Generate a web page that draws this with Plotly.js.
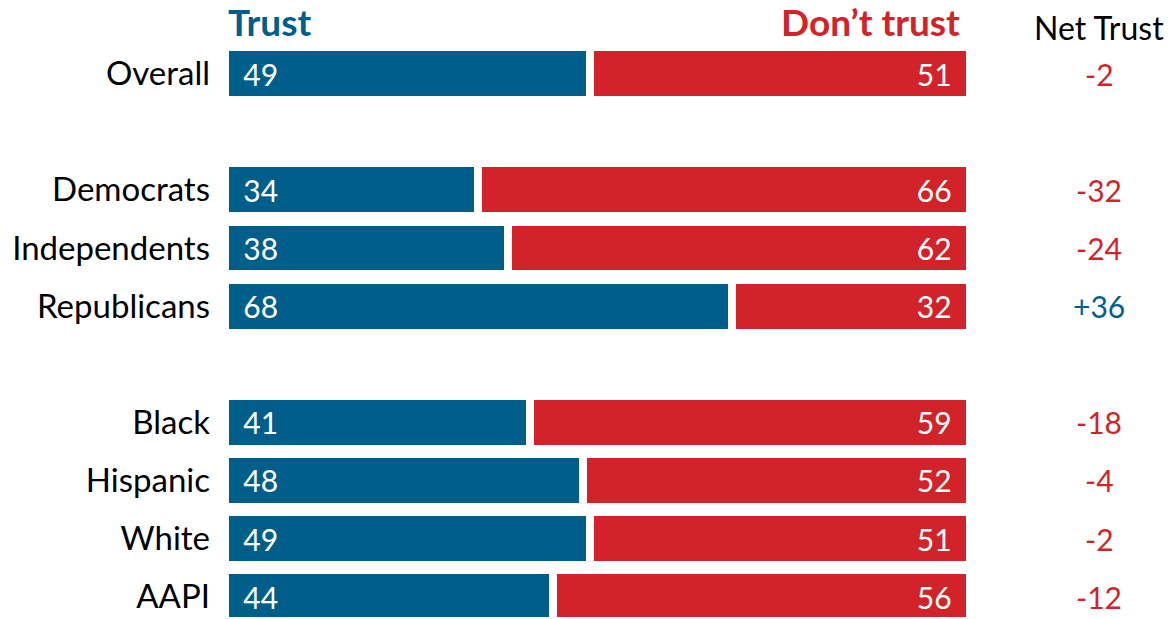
<!DOCTYPE html>
<html>
<head>
<meta charset="utf-8">
<script src="https://cdn.plot.ly/plotly-3.0.1.min.js"></script>
<style>html,body{margin:0;padding:0;background:#fff;}#chart{width:1171px;height:619px;}</style>
</head>
<body>
<div id="chart"></div>
<script>
const categories = ['Overall','Democrats','Independents','Republicans','Black','Hispanic','White','AAPI'];
const groups = [0,1,1,1,2,2,2,2];
const trust = [49,34,38,68,41,48,49,44];
const dontTrust = [51,66,62,32,59,52,51,56];
const netTrust = [-2,-32,-24,36,-18,-4,-2,-12];

const BLUE = '#005f8a';
const RED = '#d2232a';
const FONT = 'Lato, "Noto Sans", sans-serif';

const rows = categories.map((c,i) => i + groups[i]);

const common = {
  type: 'bar', orientation: 'h', y: rows, width: 0.91,
  textposition: 'inside', textangle: 0,
  insidetextfont: {family: FONT, size: 30, color: '#fff'},
  hoverinfo: 'skip', cliponaxis: false
};

const data = [
  Object.assign({}, common, {x: trust, name: 'Trust', insidetextanchor: 'start',
    texttemplate: '\u00a0\u00a0%{x}',
    marker: {color: BLUE, line: {color: '#fff', width: 8}}}),
  Object.assign({}, common, {x: dontTrust, name: "Don't trust", insidetextanchor: 'end',
    texttemplate: '%{x}\u00a0\u00a0',
    marker: {color: RED, line: {color: '#fff', width: 8}}})
];

const W = 1171, H = 619, ML = 225, MR = 201, MT = 30, MB = 2;
const pw = W - ML - MR, ph = H - MT - MB;
const px = p => (p - ML) / pw;
const py = p => 1 - (p - MT) / ph;

const annotations = [
  {text: '<b>Trust</b>', xref: 'paper', yref: 'paper', x: px(226), y: py(21), xanchor: 'left', yanchor: 'middle', showarrow: false, font: {family: FONT, size: 37, color: BLUE}},
  {text: '<b>Don\u2019t trust</b>', xref: 'paper', yref: 'paper', x: px(962), y: py(21), xanchor: 'right', yanchor: 'middle', showarrow: false, font: {family: FONT, size: 37, color: RED}},
  {text: 'Net Trust', xref: 'paper', yref: 'paper', x: px(1099), y: py(27), xanchor: 'center', yanchor: 'middle', showarrow: false, font: {family: FONT, size: 32, color: '#000'}}
];
netTrust.forEach((v,i) => {
  annotations.push({text: (v > 0 ? '+' : '') + v, xref: 'paper', yref: 'y', x: px(1099), y: rows[i],
    xanchor: 'center', yanchor: 'middle', showarrow: false,
    font: {family: FONT, size: 30, color: v > 0 ? BLUE : RED}});
});

const layout = {
  width: W, height: H, barmode: 'stack', showlegend: false,
  margin: {l: ML, r: MR, t: MT, b: MB, pad: 0},
  paper_bgcolor: '#fff', plot_bgcolor: '#fff',
  xaxis: {range: [0,100], visible: false, fixedrange: true},
  yaxis: {range: [9.35, -0.75], tickvals: rows, ticktext: categories, showgrid: false, zeroline: false,
    showline: false, ticks: '', ticklabelstandoff: 14, tickfont: {family: FONT, size: 33, color: '#000'}, fixedrange: true},
  annotations: annotations
};

Plotly.newPlot('chart', data, layout, {displayModeBar: false, staticPlot: true});
</script>
</body>
</html>
